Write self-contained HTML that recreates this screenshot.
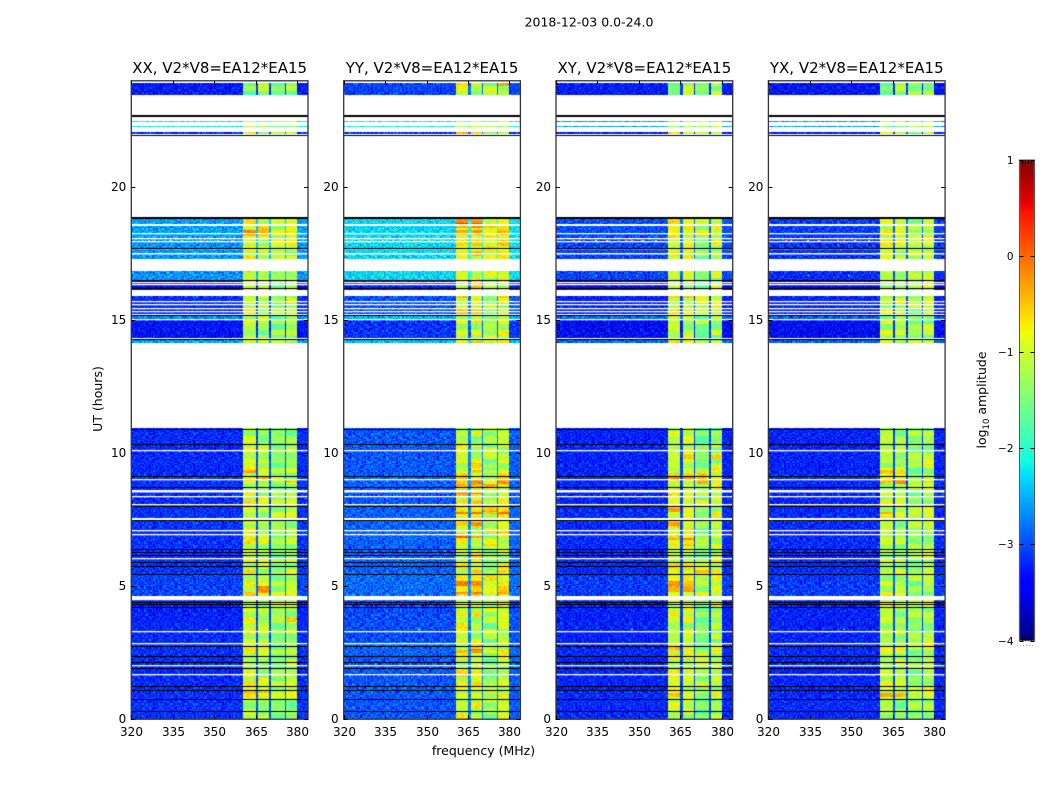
<!DOCTYPE html>
<html lang="en">
<head>
<meta charset="utf-8">
<title>2018-12-03 0.0-24.0</title>
<style>
html,body{margin:0;padding:0;background:#fff;}
#stage{position:relative;width:1050px;height:800px;overflow:hidden;background:#fff;}
#stage canvas,#stage svg{position:absolute;left:0;top:0;}
text{font-family:"DejaVu Sans","Liberation Sans",sans-serif;fill:#000;}
</style>
</head>
<body>
<div id="stage">
<canvas id="heat" width="1050" height="800"></canvas>
<svg id="ov" width="1050" height="800" viewBox="0 0 1050 800">
<text x="589" y="26.5" font-size="12.5" text-anchor="middle">2018-12-03 0.0-24.0</text>
<text x="483.5" y="755" font-size="12.5" text-anchor="middle">frequency (MHz)</text>
<text x="102" y="399" font-size="12.5" text-anchor="middle" transform="rotate(-90 102 399)">UT (hours)</text>
<text x="986" y="400" font-size="12.5" text-anchor="middle" transform="rotate(-90 986 400)">log<tspan font-size="8.5" dy="3">10</tspan><tspan dy="-3"> amplitude</tspan></text>
</svg>
</div>
<script>
// ---- categories and ticks ----
const panelNames = ["XX", "YY", "XY", "YX"];
const panelSuffix = ", V2*V8=EA12*EA15";
const xTicks = [320, 335, 350, 365, 380];
const yTicks = [0, 5, 10, 15, 20];
const cbTicks = [1, 0, -1, -2, -3, -4];

// ---- time blocks with data (UT hours) ----
const blockStart = [0.00,0.75,1.10,1.90,2.40,2.90,3.60,4.65,5.50,6.40,7.90,8.70,9.20,10.00,14.16,14.33,14.64,15.05,15.23,16.12,16.50,17.30,18.10,22.00,22.26,22.45,23.47];
const blockEnd   = [0.75,1.10,1.90,2.40,2.90,3.60,4.53,5.50,6.40,7.90,8.70,9.20,10.00,10.95,14.25,14.62,15.00,15.20,15.90,16.50,16.85,18.10,18.87,22.07,22.30,22.49,23.90];

// ---- log10 amplitude of the quiet band (320-360 MHz), one value per block ----
const lowXX = [-3.15,-3.15,-3.20,-3.20,-3.15,-3.20,-3.25,-3.05,-3.15,-3.15,-3.20,-3.15,-3.20,-3.20,-2.60,-3.35,-3.35,-2.70,-3.20,-3.45,-2.65,-2.65,-2.60,-3.25,-2.20,-2.20,-3.30];
const lowYY = [-2.95,-2.95,-2.95,-2.95,-2.90,-3.00,-3.00,-2.85,-2.90,-2.90,-2.95,-2.90,-2.95,-2.95,-2.45,-3.15,-3.15,-2.45,-3.00,-3.30,-2.30,-2.30,-2.30,-3.15,-2.15,-2.15,-3.05];
const lowXY = [-3.20,-3.20,-3.25,-3.25,-3.20,-3.25,-3.25,-3.10,-3.20,-3.20,-3.25,-3.20,-3.25,-3.25,-2.90,-3.40,-3.40,-2.85,-3.25,-3.45,-3.05,-3.05,-3.00,-3.35,-2.60,-2.60,-3.30];
const lowYX = [-3.20,-3.20,-3.25,-3.25,-3.20,-3.25,-3.25,-3.10,-3.20,-3.20,-3.25,-3.20,-3.25,-3.25,-2.95,-3.40,-3.40,-2.95,-3.25,-3.45,-3.20,-3.15,-3.10,-3.35,-2.60,-2.60,-3.35];

// ---- log10 amplitude of the bright band (360-380 MHz), one value per block ----
const highXX = [-1.30,-1.10,-1.15,-1.20,-1.10,-1.25,-1.15,-1.05,-1.15,-1.15,-1.15,-1.10,-1.15,-1.30,-1.00,-1.35,-1.35,-1.30,-1.05,-1.10,-1.05,-1.05,-0.95,-1.10,-1.10,-1.10,-1.35];
const highYY = [-1.15,-1.10,-1.10,-1.15,-1.05,-1.15,-1.10,-1.00,-1.05,-1.05,-1.00,-0.95,-1.05,-1.20,-0.90,-1.15,-1.15,-1.15,-0.95,-0.95,-0.95,-0.85,-0.70,-0.95,-1.05,-1.05,-1.15];
const highXY = [-1.25,-1.15,-1.15,-1.20,-1.10,-1.25,-1.15,-1.05,-1.10,-1.10,-1.10,-1.05,-1.10,-1.25,-1.00,-1.30,-1.30,-1.30,-1.05,-1.10,-1.15,-1.10,-1.00,-1.10,-1.15,-1.15,-1.30];
const highYX = [-1.35,-1.20,-1.20,-1.25,-1.15,-1.30,-1.25,-1.20,-1.20,-1.25,-1.20,-1.15,-1.20,-1.30,-1.10,-1.35,-1.35,-1.40,-1.15,-1.20,-1.20,-1.15,-1.10,-1.15,-1.20,-1.20,-1.30];
const lowLevels = [lowXX, lowYY, lowXY, lowYX];
const highLevels = [highXX, highYY, highXY, highYX];

// ---- spectral windows (MHz) and their offset against the bright level ----
const windowStart = [360.4, 365.6, 370.5, 375.7];
const windowEnd   = [364.9, 370.0, 375.2, 380.0];
const windowGain  = [0.14, 0.10, -0.14, 0.02];

// ---- flagged rows (UT hours) shared by all panels ----
const whiteRows = [1.71,2.05,2.88,3.33,4.59,6.07,6.97,7.12,7.58,8.09,8.38,8.62,9.02,10.12,15.03,15.35,15.47,15.61,15.72,16.37,16.45,17.53,17.72,17.97,18.09,18.27,18.61];
const whiteThickness = [1.3,1.3,1.3,1.3,3.2,1.3,1.3,1.3,2,1.3,1.3,2.5,1.3,1.3,1.3,1.3,1.3,1.3,1.3,1.3,1.3,1.5,1.3,1.3,1.3,1.3,2];
const blackRows = [0.30,0.75,1.09,1.26,1.94,2.16,2.36,2.75,4.22,4.32,4.40,5.47,5.75,5.90,6.19,6.28,6.40,7.49,8.03,8.72,9.16,10.34,10.91,14.28,15.20,16.20,16.50,17.71,18.89,21.95,22.71];
const blackThickness = [1,1,1,1,1,1,1,1,1,1,1,1,1,1,1,1,1,1,1,1,1,1,1,1,1,1,1,1,2,1,2];

// ---- brighter patches: panel index, hour from, hour to, MHz from, MHz to, extra log10 amplitude ----
const patchPanel = [
0,0,0,0,0,0,0,0,0,0,0,0,0,0,0,0,0,0,0,0,0,
1,1,1,1,1,1,1,1,1,1,1,1,1,1,1,1,1,
2,2,2,2,2,2,2,2,2,2,2,2,2,2,2,2,2,
3,3,3,3,3,3,3,3,3,3,3,3,3,3,3];
const patchFrom = [
8.94,8.86,9.43,9.23,9.38,8.46,8.21,7.31,5.46,4.72,3.76,3.63,3.18,2.56,2.63,0.83,0.83,1.00,1.00,23.47,18.15,
9.21,8.83,8.68,8.41,7.82,7.68,7.22,7.00,6.76,6.46,5.47,4.66,3.85,2.50,1.10,18.45,23.80,
9.80,9.80,8.83,8.90,8.90,8.66,7.76,7.22,6.72,6.46,5.48,4.78,2.53,2.53,0.83,0.96,23.47,
9.40,9.22,8.85,8.86,8.68,7.68,7.68,6.88,6.76,3.15,3.15,2.56,1.10,0.84,23.47];
const patchTo = [
9.09,8.93,9.51,9.31,9.43,8.56,8.31,7.43,5.59,5.16,3.84,3.84,3.26,2.68,2.76,1.01,1.01,1.08,1.08,23.90,18.40,
9.31,8.97,8.81,8.53,7.97,7.81,7.47,7.06,6.88,6.56,5.60,5.40,4.03,2.63,1.22,18.62,23.90,
9.93,9.93,9.28,9.09,9.09,8.78,7.93,7.47,6.91,6.56,5.57,5.40,2.66,2.66,1.00,1.08,23.90,
9.50,9.30,9.16,8.93,8.78,7.80,7.80,6.97,6.85,3.25,3.25,2.66,1.22,0.97,23.90];
const patchLo = [
360,376,360,360,366,360,371,360,360,366,371,376,376,360,366,366,360,371,376,360,360,
366,360,360,360,360,360,360,371,360,366,366,360,360,360,360,360,376,
366,376,371,360,376,360,360,360,360,360,360,360,360,366,360,366,360,
366,360,360,371,366,360,371,371,360,376,366,360,360,360,360];
const patchHi = [
375,380,365,365,370,365,375,365,365,370,375,380,380,365,370,370,365,375,380,365,370,
380,380,380,380,380,380,370,380,370,375,380,380,365,380,370,375,380,
370,380,375,370,380,365,370,365,370,375,380,370,365,370,365,380,365,
370,370,370,380,370,365,375,375,365,380,375,370,365,370,365];
const patchGain = [
0.55,0.40,0.35,0.40,0.35,0.35,0.30,0.35,0.50,0.45,0.35,0.55,0.40,0.45,0.45,0.60,0.45,0.30,0.35,-0.40,0.30,
0.35,0.60,0.65,0.35,0.50,0.70,0.40,0.40,0.65,0.40,0.35,0.40,0.25,0.60,0.50,0.50,0.50,
0.35,0.25,0.45,0.40,0.40,0.55,0.50,0.40,0.50,0.35,0.40,0.40,0.55,0.45,0.60,0.35,-0.35,
0.40,0.40,0.55,0.40,0.35,0.35,0.35,0.40,0.35,0.40,0.30,0.55,0.40,0.35,-0.40];

// ---- isolated bright pixels in the quiet band ----
const speckHour = [18.03,18.03,18.03,18.03,18.03,18.03,18.03,18.03,3.40,16.70,16.70];
const speckMHz  = [326,328,334,338,345,347,351,356,347,334,349];
const speckLevel = [-0.4,-0.2,-0.9,-0.6,-0.3,-0.1,-0.7,-0.5,-0.8,-1.6,-1.6];

// ---- hand-typed noise texture, digit 0-9 ----
const grainTile = [
"4715926038472615093742816",
"8260351749026384715902634",
"1593472680915247360851729",
"6048215937164082953716405",
"3972680145739260418523967",
"5126094873052718694037218",
"9483716250968341527096843",
"2705148369421670385912576",
"7361950284836952104768391",
"0894263517250839671345028",
"4538170926694125038297615",
"1267845093381796250684973",
"8940316725527043186951240",
"3615092748960318472506187",
"6072584139714256093821756",
"2859361047083965721430498",
"9146728350256184907365213"
];

// ---- axis functions ----
const panelLeft = [131.3, 343.7, 556.0, 768.4];
const panelWidth = 176.7;
const plotTop = 80.8, plotBottom = 719.2;
const fMin = 320, fMax = 384, hMin = 0, hMax = 24;
function xScale(panel, mhz) { return panelLeft[panel] + (mhz - fMin) / (fMax - fMin) * panelWidth; }
function yScale(hour) { return plotBottom - (hour - hMin) / (hMax - hMin) * (plotBottom - plotTop); }
const cbMin = -4, cbMax = 1, cbTop = 160, cbBottom = 640.5, cbLeft = 1019.5, cbRight = 1034.5;
function cbScale(v) { return cbBottom - (v - cbMin) / (cbMax - cbMin) * (cbBottom - cbTop); }

function ramp(t, pts) {
  for (let i = 1; i < pts.length; i++) {
    if (t <= pts[i][0]) {
      const a = pts[i - 1], b = pts[i];
      return a[1] + (b[1] - a[1]) * (t - a[0]) / (b[0] - a[0]);
    }
  }
  return pts[pts.length - 1][1];
}
function jet(v) {
  const t = Math.max(0, Math.min(1, (v - cbMin) / (cbMax - cbMin)));
  const r = ramp(t, [[0,0],[0.35,0],[0.66,1],[0.89,1],[1,0.5]]);
  const g = ramp(t, [[0,0],[0.125,0],[0.375,1],[0.64,1],[0.91,0],[1,0]]);
  const b = ramp(t, [[0,0.5],[0.11,1],[0.34,1],[0.65,0],[1,0]]);
  return "rgb(" + Math.round(r * 255) + "," + Math.round(g * 255) + "," + Math.round(b * 255) + ")";
}

// ---- heatmap ----
const ctx = document.getElementById("heat").getContext("2d");
const chanStep = 0.5, rowStep = 0.05;
function windowAt(mhz) {
  for (let i = 0; i < windowStart.length; i++) {
    if (mhz >= windowStart[i] && mhz < windowEnd[i]) return i;
  }
  return -1;
}
function patchBoost(panel, hour, mhz) {
  let boost = 0;
  for (let i = 0; i < patchPanel.length; i++) {
    if (patchPanel[i] === panel && hour >= patchFrom[i] && hour < patchTo[i] && mhz >= patchLo[i] && mhz < patchHi[i]) boost += patchGain[i];
  }
  return boost;
}
function coarseGrain(panel, hour, win) {
  const line = grainTile[Math.floor(hour / 0.2) % grainTile.length];
  return (Number(line[(win * 6 + panel * 4) % line.length]) - 4.5) / 4.5;
}
function drawPanel(p) {
  for (let b = 0; b < blockStart.length; b++) {
    const low = lowLevels[p][b], high = highLevels[p][b];
    const rows = Math.max(1, Math.round((blockEnd[b] - blockStart[b]) / rowStep));
    for (let r = 0; r < rows; r++) {
      const h0 = blockStart[b] + (blockEnd[b] - blockStart[b]) * r / rows;
      const h1 = blockStart[b] + (blockEnd[b] - blockStart[b]) * (r + 1) / rows;
      const y1 = Math.round(yScale(h1));
      const y0 = Math.max(y1 + 1, Math.round(yScale(h0)));
      const line = grainTile[(Math.round(h0 / rowStep) + p * 5) % grainTile.length];
      for (let c = fMin; c < fMax; c += chanStep) {
        const x0 = Math.round(xScale(p, c));
        const x1 = Math.round(xScale(p, c + chanStep));
        const g = (Number(line[(Math.round((c - fMin) / chanStep) + p * 3) % line.length]) - 4.5) / 4.5;
        const w = windowAt(c);
        let v;
        if (w >= 0) v = high + windowGain[w] + g * 0.2 + coarseGrain(p, h0, w) * 0.38 + patchBoost(p, h0, c);
        else if (c >= 360.4 && c < 380) v = low + 0.2 + g * 0.2;
        else if (c >= 380) v = low + 0.02 + g * 0.3;
        else v = low + g * 0.38;
        ctx.fillStyle = jet(v);
        ctx.fillRect(x0, y1, x1 - x0, y0 - y1);
      }
    }
  }
  for (let i = 0; i < speckHour.length; i++) {
    ctx.fillStyle = jet(speckLevel[i]);
    ctx.fillRect(Math.round(xScale(p, speckMHz[i])), Math.round(yScale(speckHour[i])), 2, 1);
  }
  const xa = panelLeft[p];
  for (let i = 0; i < whiteRows.length; i++) {
    ctx.fillStyle = "#fff";
    ctx.fillRect(xa, Math.round(yScale(whiteRows[i])), panelWidth, whiteThickness[i]);
  }
  for (let i = 0; i < blackRows.length; i++) {
    ctx.fillStyle = "#000";
    ctx.fillRect(xa, Math.round(yScale(blackRows[i])), panelWidth, blackThickness[i]);
  }
}
for (let p = 0; p < panelNames.length; p++) drawPanel(p);

// colorbar fill
for (let y = Math.round(cbTop); y < Math.round(cbBottom); y++) {
  const v = cbMin + (cbBottom - y - 0.5) / (cbBottom - cbTop) * (cbMax - cbMin);
  ctx.fillStyle = jet(v);
  ctx.fillRect(cbLeft, y, cbRight - cbLeft, 1);
}

// ---- overlay ----
const NS = "http://www.w3.org/2000/svg";
const ov = document.getElementById("ov");
function make(tag, attrs, content) {
  const el = document.createElementNS(NS, tag);
  for (const k in attrs) el.setAttribute(k, attrs[k]);
  if (content !== undefined) el.textContent = content;
  ov.appendChild(el);
  return el;
}
function tickLine(x1, y1, x2, y2) {
  return make("line", { x1: x1, y1: y1, x2: x2, y2: y2, stroke: "#000", "stroke-width": 1 });
}
for (let p = 0; p < panelNames.length; p++) {
  const L = panelLeft[p], R = L + panelWidth;
  const frame = make("rect", { x: L, y: plotTop, width: panelWidth, height: plotBottom - plotTop, fill: "none", stroke: "#333", "stroke-width": 1.3 });
  
  
  const title = make("text", { x: L + panelWidth / 2, y: 73, "font-size": 15, "text-anchor": "middle" }, panelNames[p] + panelSuffix);
  
  
  xTicks.forEach(function (f) {
    const x = Math.round(xScale(p, f)) + 0.5;
    const t1 = tickLine(x, plotBottom, x, plotBottom - 4);
    
    
    const t2 = tickLine(x, plotTop, x, plotTop + 4);
    
    
    const lab = make("text", { x: x, y: 736, "font-size": 12, "text-anchor": "middle" }, String(f));
    
    
  });
  yTicks.forEach(function (h) {
    const y = Math.round(yScale(h)) + 0.5;
    const t1 = tickLine(L, y, L + 4, y);
    
    
    const t2 = tickLine(R, y, R - 4, y);
    
    
    const lab = make("text", { x: L - 5, y: y + 3.5, "font-size": 12, "text-anchor": "end" }, String(h));
    
    
  });
}
const cbFrame = make("rect", { x: cbLeft, y: cbTop, width: cbRight - cbLeft, height: cbBottom - cbTop, fill: "none", stroke: "#555", "stroke-width": 1 });


for (let i = 1; i <= 4; i++) {
  const mt = tickLine(cbLeft + i * 3, cbTop, cbLeft + i * 3, cbTop + 4);
  
  
  const mb = tickLine(cbLeft + i * 3, cbBottom, cbLeft + i * 3, cbBottom - 4);
  
  
}
cbTicks.forEach(function (v) {
  const y = Math.round(cbScale(v)) + 0.5;
  const t1 = tickLine(cbLeft, y, cbLeft + 4, y);
  
  
  const t2 = tickLine(cbRight, y, cbRight - 4, y);
  
  
  const lab = make("text", { x: 1013.5, y: y + 3.5, "font-size": 10.5, "text-anchor": "end" }, v < 0 ? "\u2212" + Math.abs(v) : String(v));
  
  
});
const dots = make("line", { x1: 1017, y1: 645.5, x2: 1035, y2: 645.5, stroke: "#999", "stroke-width": 1, "stroke-dasharray": "1 2" });


</script>
</body>
</html>
